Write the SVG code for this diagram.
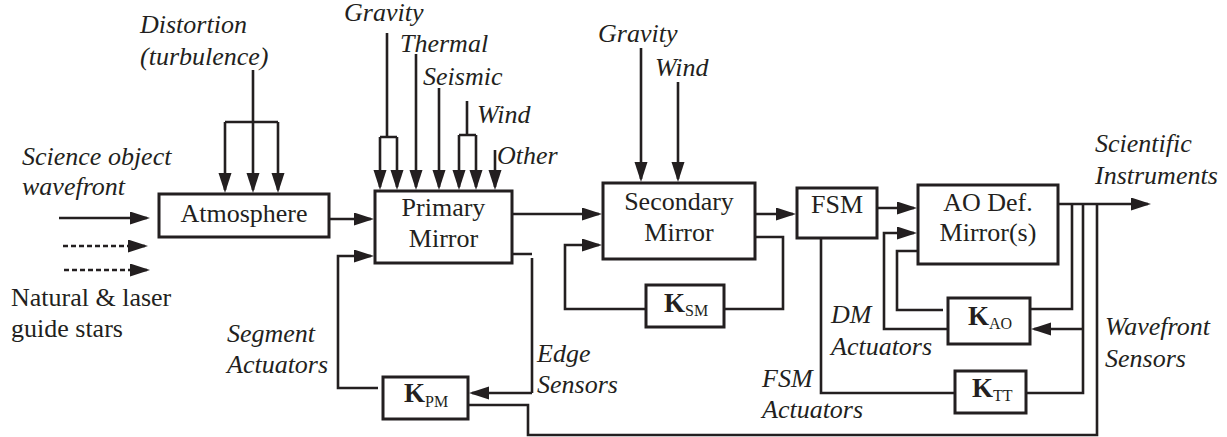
<svg xmlns="http://www.w3.org/2000/svg" width="1227" height="437" viewBox="0 0 1227 437">
<defs>
<marker id="ah" markerUnits="userSpaceOnUse" markerWidth="22" markerHeight="14" refX="17" refY="6.5" orient="auto">
<path d="M0,0 L20,6.5 L0,13 Z" fill="#231f20"/>
</marker>
<style>
.box{fill:#fff;stroke:#231f20;stroke-width:3}
.ln{fill:none;stroke:#231f20;stroke-width:2.6}
.ar{marker-end:url(#ah)}
.dash{stroke-dasharray:5 3}
.t{font-family:"Liberation Serif","Times New Roman",serif;font-size:26px;fill:#231f20}
.c{text-anchor:middle}
.i{font-style:italic}
.kb{font-family:"Liberation Serif","Times New Roman",serif;font-weight:bold;font-size:27px;fill:#231f20}
.sub{font-family:"Liberation Serif","Times New Roman",serif;font-size:16px;fill:#231f20}
</style>
</defs>
<rect width="1227" height="437" fill="#fff"/>

<g id="connectors">
<!-- inputs -->
<path class="ln ar" d="M59,218 H147"/>
<path class="ln ar dash" d="M63,246 H145"/>
<path class="ln ar dash" d="M64,270 H147"/>
<!-- distortion -->
<path class="ln" d="M253,70 V122 M225,122 H278"/>
<path class="ln ar" d="M225,122 V190"/>
<path class="ln ar" d="M253,122 V190"/>
<path class="ln ar" d="M278,122 V190"/>
<!-- atmosphere to primary -->
<path class="ln ar" d="M329,219 H371"/>
<!-- primary disturbances -->
<path class="ln" d="M387,33 V137 M380,137 H397"/>
<path class="ln ar" d="M380,137 V187"/>
<path class="ln ar" d="M397,137 V187"/>
<path class="ln ar" d="M416,54 V187"/>
<path class="ln ar" d="M439,88 V187"/>
<path class="ln" d="M467,101 V135 M459,135 H476"/>
<path class="ln ar" d="M459,135 V187"/>
<path class="ln ar" d="M476,135 V187"/>
<path class="ln ar" d="M495,150 V187"/>
<!-- primary to secondary -->
<path class="ln ar" d="M512,214 H599"/>
<!-- secondary disturbances -->
<path class="ln ar" d="M641,48 V179"/>
<path class="ln ar" d="M678,82 V179"/>
<!-- secondary to FSM -->
<path class="ln ar" d="M755,214 H793"/>
<!-- FSM to AO -->
<path class="ln ar" d="M877,208 H914"/>
<!-- secondary loop -->
<path class="ln" d="M755,237 H783 V309 H724"/>
<path class="ln ar" d="M646,309 H565 V245 H599"/>
<!-- primary loop -->
<path class="ln" d="M512,254 H532 M532,258 V393"/>
<path class="ln ar" d="M532,393 H472"/>
<path class="ln ar" d="M378,388 H338 V256 H371"/>
<!-- KPM long loop -->
<path class="ln" d="M468,405 H528 V435 H1097 V204"/>
<!-- AO output -->
<path class="ln ar" d="M1058,204 H1148"/>
<path class="ln" d="M1072,204 V309 H1030"/>
<path class="ln" d="M1083,204 V393 H1026"/>
<path class="ln ar" d="M1083,329 H1034"/>
<!-- KAO to AO -->
<path class="ln" d="M943,310 H897 V251 H918"/>
<path class="ln ar" d="M948,329 H884 V233 H914"/>
<!-- FSM loop -->
<path class="ln" d="M821,238 V393 H955"/>
</g>

<g id="atmosphere">
<rect class="box" x="159" y="194" width="170" height="43"/>
<text class="t c" x="244" y="222">Atmosphere</text>
</g>
<g id="primary-mirror">
<rect class="box" x="375" y="191" width="137" height="72"/>
<text class="t c" x="443.5" y="216">Primary</text>
<text class="t c" x="443.5" y="247">Mirror</text>
</g>
<g id="secondary-mirror">
<rect class="box" x="603" y="183" width="152" height="76"/>
<text class="t c" x="679" y="210">Secondary</text>
<text class="t c" x="679" y="241">Mirror</text>
</g>
<g id="fsm">
<rect class="box" x="797" y="188" width="80" height="50"/>
<text class="t c" x="837" y="213">FSM</text>
</g>
<g id="ao-mirror">
<rect class="box" x="918" y="185" width="140" height="79"/>
<text class="t c" x="988" y="211">AO Def.</text>
<text class="t c" x="988" y="241">Mirror(s)</text>
</g>
<g id="k-sm">
<rect class="box" x="646" y="285" width="78" height="42"/>
<text x="664" y="312"><tspan class="kb">K</tspan><tspan class="sub" dy="4">SM</tspan></text>
</g>
<g id="k-ao">
<rect class="box" x="948" y="298" width="82" height="46"/>
<text x="968" y="325"><tspan class="kb">K</tspan><tspan class="sub" dy="4">AO</tspan></text>
</g>
<g id="k-tt">
<rect class="box" x="955" y="371" width="71" height="42"/>
<text x="972" y="397"><tspan class="kb">K</tspan><tspan class="sub" dy="4">TT</tspan></text>
</g>
<g id="k-pm">
<rect class="box" x="383" y="377" width="85" height="42"/>
<text x="404" y="402"><tspan class="kb">K</tspan><tspan class="sub" dy="5">PM</tspan></text>
</g>

<g id="labels">
<text class="t i" x="140" y="33">Distortion</text>
<text class="t i" x="140" y="65">(turbulence)</text>
<text class="t i" x="22" y="165">Science object</text>
<text class="t i" x="22" y="195">wavefront</text>
<text class="t" x="11" y="306">Natural &amp; laser</text>
<text class="t" x="11" y="337">guide stars</text>
<text class="t i" x="344" y="21">Gravity</text>
<text class="t i" x="400" y="52">Thermal</text>
<text class="t i" x="423" y="85">Seismic</text>
<text class="t i" x="477" y="123">Wind</text>
<text class="t i" x="497" y="164">Other</text>
<text class="t i" x="598" y="42">Gravity</text>
<text class="t i" x="655" y="76">Wind</text>
<text class="t i" x="1095" y="152">Scientific</text>
<text class="t i" x="1095" y="184">Instruments</text>
<text class="t i" x="227" y="342">Segment</text>
<text class="t i" x="227" y="373">Actuators</text>
<text class="t i" x="537" y="362">Edge</text>
<text class="t i" x="537" y="393">Sensors</text>
<text class="t i" x="831" y="323">DM</text>
<text class="t i" x="831" y="355">Actuators</text>
<text class="t i" x="762" y="387">FSM</text>
<text class="t i" x="762" y="418">Actuators</text>
<text class="t i" x="1105" y="335">Wavefront</text>
<text class="t i" x="1105" y="367">Sensors</text>
</g>
</svg>
